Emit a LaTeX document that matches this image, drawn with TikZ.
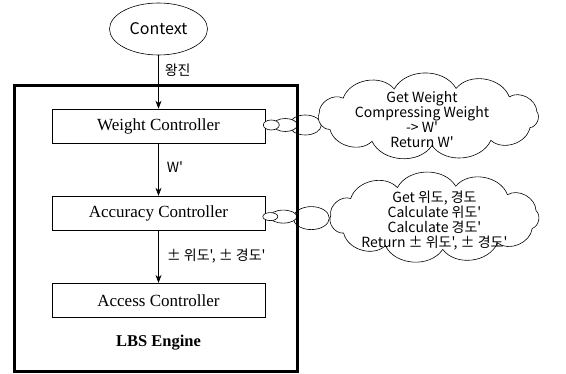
\documentclass[tikz,border=0pt]{standalone}
\usepackage{fontspec}
\setmainfont{Liberation Serif}
\newfontfamily\krfont{Noto Sans CJK KR}
\usetikzlibrary{positioning,arrows.meta,calc,shapes.geometric}

\begin{document}
\begin{tikzpicture}[
    x=1pt, y=1pt,
    node distance=52.5pt,
    ctrl/.style={rectangle, draw, semithick, minimum width=213pt, minimum height=34pt, inner sep=0pt, font=\fontsize{17}{19}\selectfont},
    ctx/.style={ellipse, draw, semithick, minimum width=98pt, minimum height=52pt, inner sep=0pt, font=\krfont\fontsize{16}{18}\selectfont},
    engine/.style={inner sep=0pt, font=\bfseries\fontsize{16.5}{18}\selectfont},
    frame/.style={draw, line width=3pt},
    thought/.style={draw, semithick, fill=white},
    cloudtxt/.style={align=center, inner sep=0pt, font=\krfont\fontsize{14}{15}\selectfont},
    puff/.style={ellipse, draw, semithick, fill=white, inner sep=0pt},
    arrow/.style={-{Stealth[length=8pt, width=6pt]}, semithick},
    msg/.style={inner sep=0pt, font=\krfont\fontsize{14}{16}\selectfont}
]
\useasboundingbox (0,0) rectangle (566,-374);

% Input
\node[ctx] (context) at (158.5,-29) {Context};

% Controllers
\node[ctrl] (weight) at (158.5,-126) {Weight Controller};
\node[ctrl, below=of weight] (accuracy) {Accuracy Controller};
\node[ctrl, below=of accuracy] (access) {Access Controller};
\node[engine] (engine) at ($(access.south)+(0,-25)$) {LBS Engine};

% Flow
\draw[arrow] (context) -- (weight) node[msg, pos=0.28, right=6pt] {왕진};
\draw[arrow] (weight) -- (accuracy) node[msg, pos=0.46, right=8pt] {W'};
\draw[arrow] (accuracy) -- (access) node[msg, pos=0.48, right=8pt] {± 위도', ± 경도'};

% Thought bubbles: Weight
\node[puff, minimum width=32pt, minimum height=20pt] (wpuff3) at ($(weight.east)+(40,1)$) {};
\node[puff, minimum width=24pt, minimum height=13pt] (wpuff2) at ($(weight.east)+(20,1)$) {};
\node[puff, minimum width=16pt, minimum height=10pt] (wpuff1) at ($(weight.east)+(6,1)$) {};
\coordinate (cloudW) at (428.5,-116.5);
\draw[thought] ($(cloudW)+(10:110pt and 29pt)$)
  \foreach \i in {1,...,11} { to[bend right=60] ($(cloudW)+({10+\i*360/11}:110pt and 29pt)$) } -- cycle;
\node[cloudtxt] (cloudWtxt) at ($(cloudW)+(-6.5,-3)$) {Get Weight\\Compressing Weight\\-> W'\\Return W'};

% Thought bubbles: Accuracy
\node[puff, minimum width=36pt, minimum height=23pt] (apuff3) at ($(accuracy.east)+(46,-5)$) {};
\node[puff, minimum width=27pt, minimum height=13pt] (apuff2) at ($(accuracy.east)+(18,-3.5)$) {};
\node[puff, minimum width=15pt, minimum height=8pt] (apuff1) at ($(accuracy.east)+(5,-3.5)$) {};
\coordinate (cloudA) at (434.5,-217.5);
\draw[thought] ($(cloudA)+(-20:104pt and 32pt)$)
  \foreach \i in {1,...,11} { to[bend right=60] ($(cloudA)+({-20+\i*360/11}:104pt and 32pt)$) } -- cycle;
\node[cloudtxt] (cloudAtxt) at ($(cloudA)+(0,-3)$) {Get 위도, 경도\\Calculate 위도'\\Calculate 경도'\\Return ± 위도', ± 경도'};

% Engine frame
\coordinate (lbsNW) at (14.5,-86);
\coordinate (lbsSE) at (297,-372);
\draw[frame] (lbsNW) rectangle (lbsSE);

\end{tikzpicture}
\end{document}
